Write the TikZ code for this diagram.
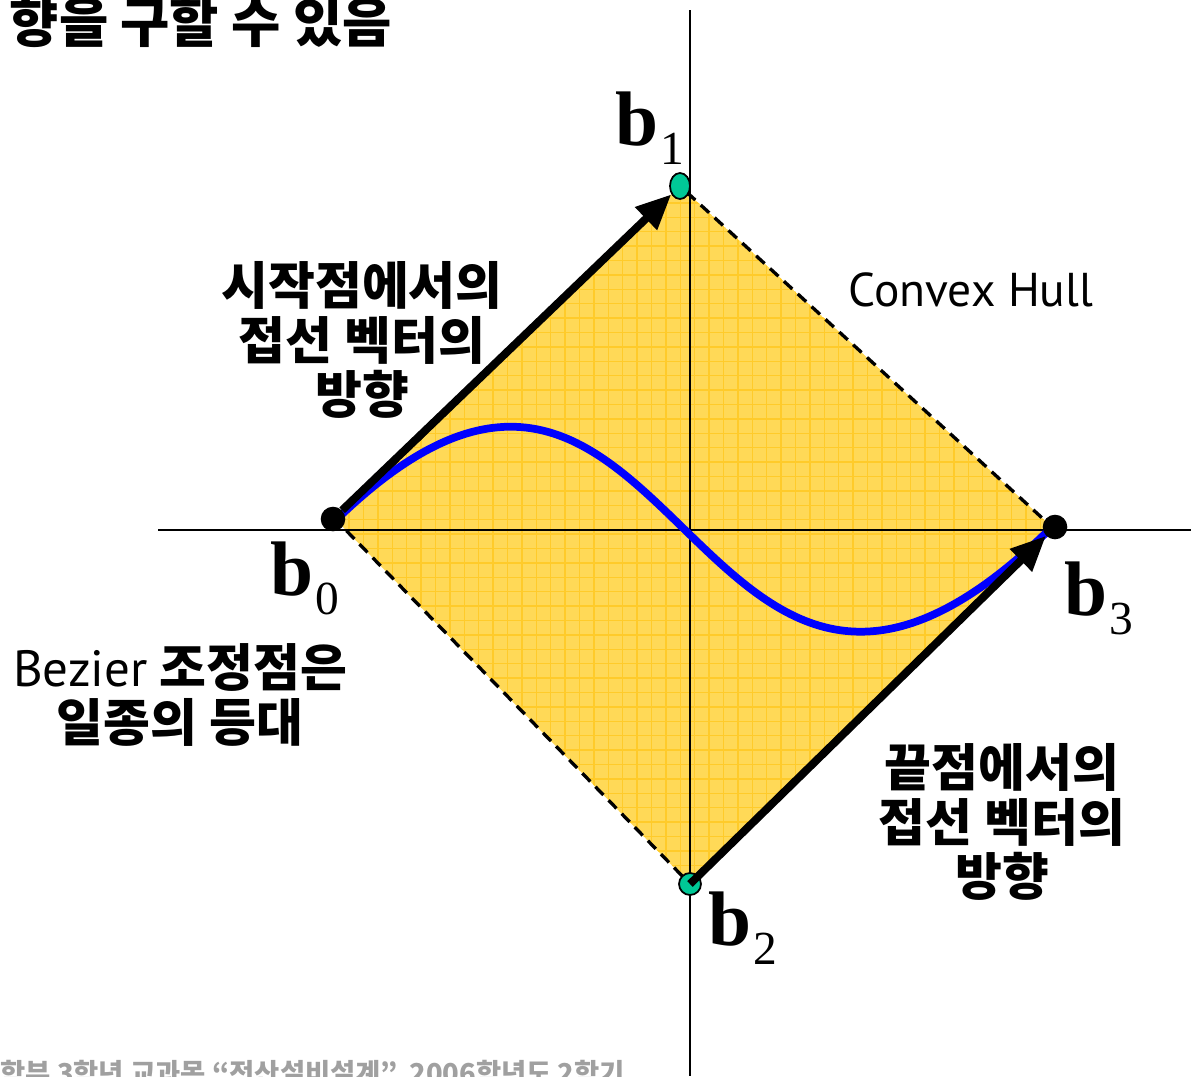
\documentclass[tikz,border=0pt]{standalone}
\usepackage{fontspec}
\setmainfont{Liberation Serif}
\newfontfamily\krfont{Noto Sans CJK KR}
\newfontfamily\lsans{PT Sans}
\definecolor{Hull}{HTML}{FFD957}
\definecolor{HullGrid}{HTML}{FFCB2A}
\definecolor{Curve}{HTML}{0000FF}
\definecolor{Knot}{HTML}{00C896}
\definecolor{Note}{HTML}{A0A0A0}
\usetikzlibrary{arrows.meta,shapes.geometric}
\newcommand{\bpt}[1]{\bfseries b\kern1pt{\mdseries\fontsize{27}{27}\selectfont\raisebox{-11pt}{#1}}}

\begin{document}
\begin{tikzpicture}[
    x=0.02cm, y=-0.02cm,
    axis/.style={draw=black, line width=1.1pt},
    hull/.style={draw=black, line width=1.9pt, dash pattern=on 6.5pt off 4.2pt},
    gridline/.style={draw=HullGrid, line width=0.7pt},
    tangent/.style={-{Triangle[length=20pt,width=17pt]}, line width=4.5pt, black},
    bezier/.style={draw=Curve, line width=4.4pt},
    knot/.style={circle, fill=black, inner sep=0pt, minimum size=14pt},
    ctrl/.style={draw=black, line width=1pt, fill=Knot, inner sep=0pt},
    blabel/.style={anchor=base west, inner sep=0pt, font=\fontsize{44}{44}\selectfont},
    note/.style={align=center, inner sep=0pt, font=\krfont\bfseries\fontsize{29}{31}\selectfont}
  ]
    \useasboundingbox (0,0) rectangle (1191,1076);
    \coordinate (p0) at (336,520);
    \coordinate (p1) at (680,186);
    \coordinate (p2) at (690,884);
    \coordinate (p3) at (1052,527);

    \begin{scope}
      \clip (p0) -- (p1) -- (p3) -- (p2) -- cycle;
      \fill[Hull] (p0) -- (p1) -- (p3) -- (p2) -- cycle;
      \foreach \g in {334.7,349.1,...,1070} \draw[gridline] (\g,170) -- (\g,900);
      \foreach \g in {174.1,188.5,...,900} \draw[gridline] (320,\g) -- (1070,\g);
    \end{scope}

    \coordinate (xl) at (158,530);
    \coordinate (xr) at (1191,530);
    \coordinate (yt) at (690,10);
    \coordinate (yb) at (690,1076);
    \draw[axis] (xl) -- (xr);
    \draw[axis] (yt) -- (yb);

    \draw[hull] (p0) -- (p1) -- (p3) -- (p2) -- cycle;
    \draw[bezier] (p0) .. controls (p1) and (p2) .. (p3);

    \node[knot] (b0) at (333,519) {};
    \node[knot] (b3) at (1055,527) {};
    \node[ctrl, ellipse, minimum width=11.4pt, minimum height=14.8pt] (b1) at (p1) {};
    \node[ctrl, circle, minimum size=12.5pt] (b2) at (p2) {};
    \draw[tangent] (b0) -- (b1);
    \draw[tangent] (b2.center) -- (b3);

    \node[blabel] (l0) at (270,595) {\bpt{0}};
    \node[blabel] (l1) at (615,145) {\bpt{1}};
    \node[blabel] (l2) at (708,945) {\bpt{2}};
    \node[blabel] (l3) at (1064,615) {\bpt{3}};

    \node[note] (start) at (362,340) {시작점에서의\\접선 벡터의\\방향};
    \node[note] (end) at (1002,822) {끝점에서의\\접선 벡터의\\방향};
    \node[note] (beacon) at (180,695) {{\mdseries\lsans Bezier} 조정점은\\일종의 등대};
    \node[inner sep=0pt, font=\lsans\fontsize{27}{27}\selectfont] (hulltxt) at (971,290) {Convex Hull};
    \node[anchor=east, inner sep=0pt, font=\krfont\bfseries\fontsize{30.5}{30.5}\selectfont] (head) at (392,22) {향을 구할 수 있음};
    \node[anchor=west, inner sep=0pt, text=Note, font=\krfont\bfseries\fontsize{15.6}{15.6}\selectfont] (foot) at (0,1075) {학부 3학년 교과목 “전산설비설계”, 2006학년도 2학기};
\end{tikzpicture}
\end{document}
